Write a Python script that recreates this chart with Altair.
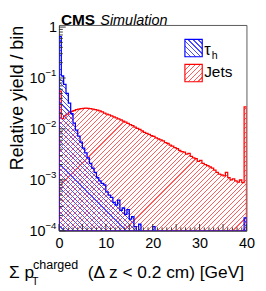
import altair as alt
import pandas as pd

# ---------------- data ----------------
bin_edges = [i * 0.5 for i in range(81)]  # 0 .. 40 GeV, 0.5 GeV bins

tau_vals = [
    0.65, 0.11, 0.075, 0.05, 0.032, 0.02, 0.013, 0.0095, 0.0072, 0.0055,
    0.0042, 0.0034, 0.0027, 0.0021, 0.0017, 0.0014, 0.0011, 0.00095, 0.00085, 0.0008,
    0.00058, 0.0005, 0.00045, 0.00036, 0.00032, 0.0004, 0.00025, 0.00028, 0.00021, 0.00026,
    0.00017, 0.00019, 0.00012, 0.0001, 0.000135, 0.0001, 0.0001, 0.0001, 0.0001, 0.0001,
    0.00012, 0.0001, 0.0001, 0.0001, 0.0001, 0.0001, 0.0001, 0.0001, 0.0001, 0.0001,
    0.0001, 0.0001, 0.0001, 0.0001, 0.0001, 0.0001, 0.0001, 0.0001, 0.0001, 0.0001,
    0.0001, 0.0001, 0.0001, 0.0001, 0.0001, 0.0001, 0.0001, 0.0001, 0.0001, 0.0001,
    0.0001, 0.0001, 0.0001, 0.0001, 0.0001, 0.0001, 0.0001, 0.0001, 0.0001, 0.00018,
]

jet_vals = [
    0.055, 0.016, 0.018, 0.0195, 0.021, 0.022, 0.023, 0.0238, 0.0245, 0.025,
    0.0253, 0.0255, 0.0252, 0.025, 0.0246, 0.024, 0.0234, 0.0225, 0.0215, 0.0205,
    0.0196, 0.0188, 0.018, 0.0172, 0.0165, 0.0158, 0.015, 0.0143, 0.0136, 0.0128,
    0.0121, 0.0116, 0.0109, 0.0103, 0.0098, 0.0092, 0.0086, 0.0082, 0.0078, 0.0074,
    0.0071, 0.0067, 0.0064, 0.0061, 0.0058, 0.0054, 0.0052, 0.0048, 0.0046, 0.0043,
    0.0041, 0.0038, 0.0036, 0.0035, 0.0032, 0.0033, 0.0029, 0.0027, 0.0026, 0.0023,
    0.0024, 0.0021, 0.0020, 0.0019, 0.0018, 0.0017, 0.00155, 0.0014, 0.0013, 0.00125,
    0.0012, 0.0014, 0.0011, 0.001, 0.00105, 0.00095, 0.0009, 0.001, 0.00088, 0.027,
]

x_major = [0, 5, 10, 15, 20, 25, 30, 35, 40]
x_minor = [v for v in range(1, 40) if v % 5 != 0]
y_major = [1e-4, 1e-3, 1e-2, 1e-1, 1.0]
y_minor = [k * 10.0 ** e for e in range(-4, 0) for k in range(2, 10)]
y_label_vals = [1e-4, 1e-3, 1e-2, 1e-1]
y_label_exp = ["\u22124", "\u22123", "\u22122", "\u22121"]

# ---------------- layout / style ----------------
W, H = 195, 214
FONT = "Liberation Sans"

xscale = alt.Scale(domain=[0, 40], nice=False, zero=False)
yscale = alt.Scale(type="log", domain=[1e-4, 1.1], nice=False)


def hatch(color, n, x1, y1, x2, y2, frac=0.22):
    clear = "rgba(255,255,255,0)"
    stops = []
    for i in range(n):
        a = round(i / n, 6)
        b = round((i + frac) / n, 6)
        c = round((i + 1) / n, 6)
        stops += [
            alt.GradientStop(color=color, offset=a),
            alt.GradientStop(color=color, offset=b),
            alt.GradientStop(color=clear, offset=b),
            alt.GradientStop(color=clear, offset=c),
        ]
    return alt.LinearGradient(gradient="linear", stops=stops, x1=x1, y1=y1, x2=x2, y2=y2)


red_fill = hatch("#ff5c5c", 69, 0, 0, 1.1226, 0.835)
blue_fill = hatch("#4d4dff", 80, 0, 1, 0.982, -0.017)
red_box = hatch("#ff5c5c", 7, 0, 0, 1, 1, frac=0.25)
blue_box = hatch("#4d4dff", 7, 0, 1, 1, 0, frac=0.25)

df_tau = pd.DataFrame({"x": bin_edges, "y": tau_vals + [tau_vals[-1]]})
df_jet = pd.DataFrame({"x": bin_edges, "y": jet_vals + [jet_vals[-1]]})

base_axis_x = alt.Axis(
    values=x_major, ticks=False, grid=False, title=None, domainColor="#555",
    labelFont=FONT, labelFontSize=15, labelColor="black", labelPadding=5,
    format="d", labelFlush=False,
)
base_axis_y = alt.Axis(labels=False, ticks=False, grid=False, title=None, domainColor="#555")

jets = alt.Chart(df_jet).mark_area(
    interpolate="step-after", fill=red_fill, stroke="#ff0000", strokeWidth=1.3, opacity=1, clip=True
).encode(
    x=alt.X("x:Q", scale=xscale, axis=base_axis_x),
    y=alt.Y("y:Q", scale=yscale, axis=base_axis_y),
    y2=alt.datum(1e-4),
)

taus = alt.Chart(df_tau).mark_area(
    interpolate="step-after", fill=blue_fill, stroke="#0000ff", strokeWidth=1.3, opacity=1, clip=True
).encode(
    x=alt.X("x:Q", scale=xscale),
    y=alt.Y("y:Q", scale=yscale),
    y2=alt.datum(1e-4),
)

# inside ticks
ymaj = alt.Chart(pd.DataFrame({"v": y_major})).mark_rule(color="#333", strokeWidth=1).encode(
    y=alt.Y("v:Q", scale=yscale), x=alt.value(0), x2=alt.value(7)
)
ymin = alt.Chart(pd.DataFrame({"v": y_minor})).mark_rule(color="#333", strokeWidth=1).encode(
    y=alt.Y("v:Q", scale=yscale), x=alt.value(0), x2=alt.value(4)
)
xmaj = alt.Chart(pd.DataFrame({"v": x_major})).mark_rule(color="#333", strokeWidth=1).encode(
    x=alt.X("v:Q", scale=xscale), y=alt.value(H), y2=alt.value(H - 7)
)
xmin = alt.Chart(pd.DataFrame({"v": x_minor})).mark_rule(color="#333", strokeWidth=1).encode(
    x=alt.X("v:Q", scale=xscale), y=alt.value(H), y2=alt.value(H - 3.5)
)

# y tick labels with superscripts
df_ylab = pd.DataFrame({"v": y_label_vals, "e": y_label_exp})
ylab_base = alt.Chart(df_ylab).mark_text(
    font=FONT, fontSize=15, align="right", baseline="middle", color="black"
).encode(y=alt.Y("v:Q", scale=yscale), x=alt.value(-14), text=alt.value("10"))
ylab_exp = alt.Chart(df_ylab).mark_text(
    font=FONT, fontSize=10, align="left", baseline="middle", dy=-5, color="black"
).encode(y=alt.Y("v:Q", scale=yscale), x=alt.value(-14), text="e:N")
ylab_one = alt.Chart(pd.DataFrame({"v": [1.0]})).mark_text(
    font=FONT, fontSize=15, align="right", baseline="middle", color="black"
).encode(y=alt.Y("v:Q", scale=yscale), x=alt.value(-2), text=alt.value("1"))

one = pd.DataFrame({"a": [0]})


def label(text, x, y, size, align="left", baseline="alphabetic", weight="normal", style="normal", angle=0):
    return alt.Chart(one).mark_text(
        text=text, font=FONT, fontSize=size, align=align, baseline=baseline,
        fontWeight=weight, fontStyle=style, angle=angle, color="black",
    ).encode(x=alt.value(x), y=alt.value(y))


texts = [
    label("CMS", 2, -0.5, 16, weight="bold"),
    label("Simulation", 43, -0.5, 15, style="italic"),
    label("Relative yield / bin", -43, 76, 18.5, align="center", baseline="middle", angle=270),
    label("\u03a3 p", -52, 263, 18),
    label("charged", -27, 254, 13),
    label("T", -28, 270, 11),
    label("(\u0394 z < 0.2 cm) [GeV]", 30, 263, 18),
    label("\u03c4", 151, 31, 17),
    label("h", 159, 35, 11),
    label("Jets", 151, 54, 16),
]

leg_blue = alt.Chart(one).mark_rect(fill=blue_box, stroke="#0000ff", strokeWidth=1.2).encode(
    x=alt.value(131), x2=alt.value(149), y=alt.value(15), y2=alt.value(33)
)
leg_red = alt.Chart(one).mark_rect(fill=red_box, stroke="#ff0000", strokeWidth=1.2).encode(
    x=alt.value(131), x2=alt.value(149), y=alt.value(41), y2=alt.value(59)
)

chart = alt.layer(
    jets, taus, ymaj, ymin, xmaj, xmin, ylab_base, ylab_exp, ylab_one, leg_blue, leg_red, *texts
).properties(
    width=W, height=H,
    autosize=alt.AutoSizeParams(type="none"),
    padding={"left": 53, "top": 12, "right": 12, "bottom": 57},
).configure_view(stroke="#555", strokeWidth=1)

chart.save("out.html", embed_options={"renderer": "svg", "actions": False})
